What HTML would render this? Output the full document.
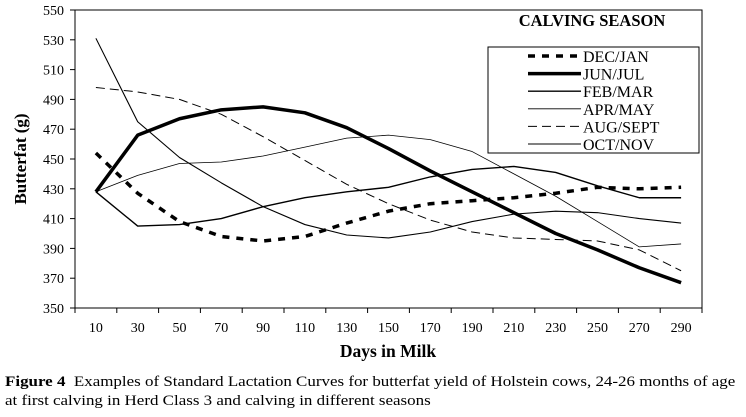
<!DOCTYPE html>
<html><head><meta charset="utf-8"><style>
body{margin:0;background:#fff;width:746px;height:417px;overflow:hidden;font-family:"Liberation Serif",serif}
svg text{font-family:"Liberation Serif",serif}
.cap{position:absolute;left:5px;font-size:15px;color:#000;white-space:nowrap;transform-origin:0 0;transform:scaleX(1.13)}
</style></head><body>
<svg width="746" height="370" style="position:absolute;left:0;top:0">
<g id="g"></g>
</svg>
<div class="cap" style="top:374px"><b>Figure 4</b>&nbsp; Examples of Standard Lactation Curves for butterfat yield of Holstein cows, 24-26 months of age</div>
<div class="cap" style="top:393px">at first calving in Herd Class 3 and calving in different seasons</div>
<script>
const categories=[10,30,50,70,90,110,130,150,170,190,210,230,250,270,290];
const yTicks=[350,370,390,410,430,450,470,490,510,530,550];
const decJan=[454,427,408,398,395,398,407,415,420,422,424,427,431,430,431];
const junJul=[428,466,477,483,485,481,471,457,442,428,414,400,389,377,367];
const febMar=[428,405,406,410,418,424,428,431,438,443,445,441,432,424,424];
const aprMay=[428,439,447,448,452,458,464,466,463,455,440,425,408,391,393];
const augSept=[498,495,490,480,465,449,433,420,409,401,397,396,395,389,375];
const octNov=[531,475,451,434,418,406,399,397,401,408,413,415,414,410,407];
const seriesNames=["DEC/JAN","JUN/JUL","FEB/MAR","APR/MAY","AUG/SEPT","OCT/NOV"];
const series=[decJan,junJul,febMar,aprMay,augSept,octNov];
const styles=[{w:3.5,d:"7,7"},{w:3.5,d:""},{w:1.4,d:""},{w:0.8,d:""},{w:1,d:"9,5"},{w:1.1,d:""}];
const L=75,R=702,T=10,B=308;
const ns="http://www.w3.org/2000/svg";
const g=document.getElementById('g');
function x(i){return L+(R-L)/categories.length*(i+0.5);}
function y(v){return B-(v-350)/200*(B-T);}
function mk(t,a,txt){const e=document.createElementNS(ns,t);for(const k in a)e.setAttribute(k,a[k]);if(txt!=null)e.textContent=txt;g.appendChild(e);return e;}
let e=mk('rect',{x:L,y:T,width:R-L,height:B-T,fill:'none',stroke:'#000','stroke-width':1});


yTicks.forEach(v=>{
 const t=mk('line',{x1:L-5,x2:L,y1:y(v),y2:y(v),stroke:'#000'});
 
 
 const l=mk('text',{x:L-11,y:y(v)+5,'text-anchor':'end','font-size':14},v);
 
 
});
for(let i=0;i<=categories.length;i++){
 const xx=L+(R-L)/categories.length*i;
 const t=mk('line',{x1:xx,x2:xx,y1:B,y2:B+5,stroke:'#000'});
 
 
}
categories.forEach((c,i)=>{
 const l=mk('text',{x:x(i),y:B+24,'text-anchor':'middle','font-size':14},c);
 
 
});
e=mk('text',{x:388,y:357,'text-anchor':'middle','font-size':17.5,'font-weight':'bold'},'Days in Milk');


e=mk('text',{x:0,y:0,'text-anchor':'middle','font-size':17,'font-weight':'bold',transform:'translate(26,159) rotate(-90)'},'Butterfat (g)');


series.forEach((s,k)=>{
 const p=mk('polyline',{points:s.map((v,i)=>x(i)+','+y(v)).join(' '),fill:'none',stroke:'#000','stroke-width':styles[k].w,'stroke-dasharray':styles[k].d,'stroke-linejoin':'round'});
 
 
});
e=mk('text',{x:592,y:26,'text-anchor':'middle','font-size':16.5,'font-weight':'bold'},'CALVING SEASON');


e=mk('rect',{x:488,y:47,width:211,height:106,fill:'#fff',stroke:'#000'});


seriesNames.forEach((n,k)=>{
 const yy=56+k*17.6;
 const l=mk('line',{x1:528,x2:581,y1:yy,y2:yy,stroke:'#000','stroke-width':styles[k].w,'stroke-dasharray':styles[k].d});
 
 
 const t=mk('text',{x:583,y:yy+6,'font-size':16},n);
 
 
});
</script>
</body></html>
